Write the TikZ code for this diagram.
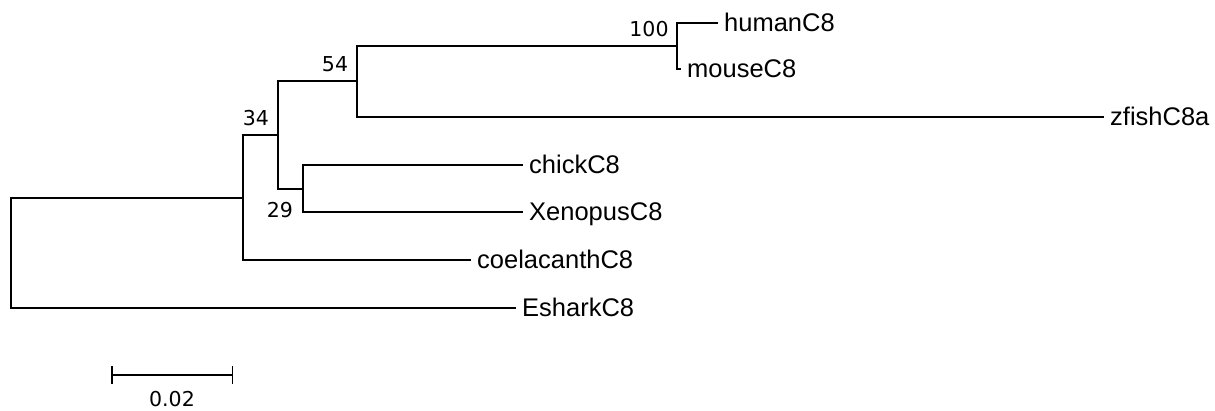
\documentclass[tikz,border=0pt]{standalone}
\usepackage{fontspec}
\setmainfont{Liberation Sans}
\newfontfamily\bootfont{DejaVu Sans}
\usetikzlibrary{arrows.meta}
\begin{document}
\begin{tikzpicture}[x=1pt,y=-1pt,
  branch/.style={line width=1.5pt,line cap=rect},
  taxon/.style={anchor=west,inner xsep=7pt,inner ysep=0pt,
    text height=18pt,text depth=0pt,
    font=\fontsize{25.5pt}{26pt}\selectfont},
  boot/.style={inner sep=0pt,font=\bootfont\fontsize{20.5pt}{21pt}\selectfont},
  scalebar/.style={line width=1.5pt,{Bar[width=17pt,line width=1.5pt]}-{Bar[width=17pt,line width=1.5pt]}}]
\useasboundingbox (0,0) rectangle (1215,411);

% internal nodes of the tree
\coordinate (root) at (11,198);
\coordinate (n34) at (243,198);
\coordinate (n3454) at (278,135);
\coordinate (n54) at (357,81);
\coordinate (n29) at (303,189);
\coordinate (n100) at (677,46);

% leaves
\node[taxon] (human) at (717,23) {humanC8};
\node[taxon] (mouse) at (680,69) {mouseC8};
\node[taxon] (zfish) at (1103,117) {zfishC8a};
\node[taxon] (chick) at (522,165) {chickC8};
\node[taxon] (xenopus) at (522,212) {XenopusC8};
\node[taxon] (coela) at (470,260) {coelacanthC8};
\node[taxon] (eshark) at (515,308) {EsharkC8};

% branches
\draw[branch] (root) |- (n34);
\draw[branch] (root) |- (eshark.west);
\draw[branch] (n34) |- (n3454);
\draw[branch] (n34) |- (coela.west);
\draw[branch] (n3454) |- (n54);
\draw[branch] (n3454) |- (n29);
\draw[branch] (n54) |- (n100);
\draw[branch] (n54) |- (zfish.west);
\draw[branch] (n100) |- (human.west);
\draw[branch] (n100) |- (mouse.west);
\draw[branch] (n29) |- (chick.west);
\draw[branch] (n29) |- (xenopus.west);

% bootstrap values
\node[boot] (b100) at (649,29) {100};
\node[boot] (b54) at (335,64) {54};
\node[boot] (b34) at (256,118) {34};
\node[boot] (b29) at (280,210) {29};

% scale bar
\coordinate (sbL) at (111,375);
\coordinate (sbR) at (233,375);
\draw[scalebar] (sbL) -- (sbR);
\node[boot] (sblabel) at (172,399) {0.02};
\end{tikzpicture}
\end{document}
